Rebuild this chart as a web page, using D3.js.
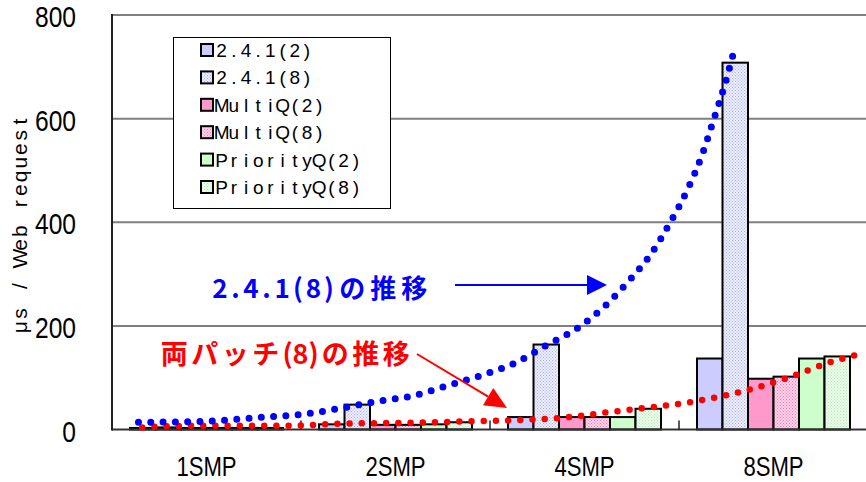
<!DOCTYPE html>
<html>
<head>
<meta charset="utf-8">
<script src="https://cdn.jsdelivr.net/npm/d3@7"></script>
<style>
  html, body { margin: 0; padding: 0; background: #fff; }
  svg { display: block; }
  text { white-space: pre; }
</style>
</head>
<body>
<svg id="chart" width="866" height="482"></svg>
<script>
// ---- data ----
const categories = ["1SMP", "2SMP", "4SMP", "8SMP"];
const seriesNames = ["2.4.1(2)", "2.4.1(8)", "MultiQ(2)", "MultiQ(8)", "PriorityQ(2)", "PriorityQ(8)"];
const v241_2   = [3, 10, 24, 137];
const v241_8   = [4, 48, 164, 708];
const multiQ_2 = [3, 9, 24, 98];
const multiQ_8 = [3, 9, 24, 102];
const prioQ_2  = [3, 10, 24, 137];
const prioQ_8  = [3, 14, 40, 141];
const yTicks = [0, 200, 400, 600, 800];

// hand-drawn trend curves, position in category units (0..4) and µs value
const trend241Pos = [0.14, 0.51, 0.77, 1.02, 1.21, 1.40, 1.59, 1.77, 1.95, 2.13, 2.30, 2.46, 2.61, 2.74, 2.86, 2.96, 3.05, 3.12, 3.18, 3.24, 3.29];
const trend241Val = [14, 16, 23, 30, 41, 54, 65, 84, 104, 128, 163, 195, 239, 289, 343, 404, 467, 528, 594, 663, 729];
const trendBothPos = [0.16, 0.42, 0.67, 0.93, 1.18, 1.56, 1.81, 2.13, 2.39, 2.64, 2.83, 3.08, 3.33, 3.57, 3.81, 3.94];
const trendBothVal = [4, 7, 7, 7, 11, 13, 15, 18, 23, 34, 42, 54, 73, 99, 131, 144];

const seriesValues = [v241_2, v241_8, multiQ_2, multiQ_8, prioQ_2, prioQ_8];

// ---- layout ----
const svg = d3.select("#chart");
const plotLeft = 112, plotRight = 868, plotTop = 15, plotBottom = 429.5;

const x = d3.scaleBand().domain(categories).range([plotLeft, plotRight])
  .paddingInner(36 / 189).paddingOuter(18 / 189);
const step = x.step();
const xs = d3.scaleBand().domain(seriesNames).range([0, x.bandwidth()]);
const xPos = d3.scaleLinear().domain([0, categories.length]).range([plotLeft, plotRight]);
const y = d3.scaleLinear().domain([0, 800]).range([plotBottom, plotTop]);

// ---- fills ----
const defs = svg.append("defs");
function dotPattern(id, bg, dot) {
  const p = defs.append("pattern").attr("id", id).attr("patternUnits", "userSpaceOnUse")
    .attr("width", 3).attr("height", 3);
  p.append("rect").attr("width", 3).attr("height", 3).attr("fill", bg);
  p.append("rect").attr("x", 0).attr("y", 0).attr("width", 1).attr("height", 1).attr("fill", dot);
  p.append("rect").attr("x", 1.5).attr("y", 1.5).attr("width", 1).attr("height", 1).attr("fill", dot);
}
dotPattern("pat241", "#eceefb", "#aab0e8");
dotPattern("patMQ", "#ffd2e8", "#f07cbc");
dotPattern("patPQ", "#ecfcec", "#b4ecb4");
const fills = ["#ccccff", "url(#pat241)", "#ff99cc", "url(#patMQ)", "#ccffcc", "url(#patPQ)"];

// ---- gridlines ----
svg.append("g").selectAll("line").data(yTicks.filter(d => d > 0)).join("line")
  .attr("x1", plotLeft).attr("x2", 866)
  .attr("y1", d => y(d)).attr("y2", d => y(d))
  .attr("stroke", "#7f7f7f").attr("stroke-width", 2);

// ---- bars ----
const barG = svg.append("g");
categories.forEach((cat, ci) => {
  seriesNames.forEach((s, si) => {
    const v = seriesValues[si][ci];
    barG.append("rect")
      .attr("x", x(cat) + xs(s))
      .attr("y", y(v))
      .attr("width", xs.bandwidth())
      .attr("height", y(0) - y(v))
      .attr("fill", fills[si])
      .attr("stroke", "#000").attr("stroke-width", 2);
  });
});

// ---- axes ----
svg.append("line").attr("x1", plotLeft).attr("x2", 866).attr("y1", y(0)).attr("y2", y(0))
  .attr("stroke", "#333").attr("stroke-width", 2);
svg.append("line").attr("x1", plotLeft).attr("x2", plotLeft).attr("y1", plotTop - 1).attr("y2", y(0) + 1)
  .attr("stroke", "#222").attr("stroke-width", 2);
// category boundary ticks (inside)
svg.append("g").selectAll("line").data(d3.range(1, categories.length + 1)).join("line")
  .attr("x1", d => plotLeft + d * step).attr("x2", d => plotLeft + d * step)
  .attr("y1", y(0)).attr("y2", y(0) - 9)
  .attr("stroke", "#222").attr("stroke-width", 1.5);

// condensed axis labels
const axisFont = "'Liberation Sans', Arial, sans-serif";
svg.append("g").selectAll("text").data(yTicks).join("text")
  .attr("transform", d => `translate(76,${y(d) + 12}) scale(0.82,1)`)
  .attr("text-anchor", "end")
  .attr("font-family", axisFont)
  .attr("font-size", 30).attr("fill", "#000")
  .text(d => d);

svg.append("g").selectAll("text").data(categories).join("text")
  .attr("transform", d => `translate(${x(d) + x.bandwidth() / 2},476) scale(0.82,1)`)
  .attr("text-anchor", "middle")
  .attr("font-family", axisFont)
  .attr("font-size", 27).attr("fill", "#000")
  .text(d => d);

// fixed-pitch text: every glyph centred in its own cell
function pitchText(parent, str, opt) {
  const chars = [...str];
  let cx = opt.x;
  const centers = [];
  chars.forEach(ch => {
    const w = ch.codePointAt(0) > 0x2E80 ? opt.full : opt.half;
    centers.push((cx + w / 2).toFixed(2));
    cx += w;
  });
  return parent.append("text")
    .attr("x", centers.join(" ")).attr("y", opt.y)
    .attr("text-anchor", "middle")
    .attr("font-family", opt.font).attr("font-size", opt.size)
    .attr("font-weight", opt.weight || "normal")
    .attr("fill", opt.color || "#000")
    .text(str);
}

// y axis title
const yTitle = svg.append("g").attr("transform", "translate(27,224) rotate(-90)");
pitchText(yTitle, "μs / Web request", {
  x: -110, y: 0, half: 13.7, full: 27, size: 21,
  font: "'Liberation Sans', Arial, sans-serif"
});

// ---- trend curves (dotted) ----
const line = d3.line().x(d => xPos(d[0])).y(d => y(d[1])).curve(d3.curveMonotoneX);
svg.append("path")
  .datum(trendBothPos.map((p, i) => [p, trendBothVal[i]]))
  .attr("d", line).attr("fill", "none")
  .attr("stroke", "#ff0000").attr("stroke-width", 6.5)
  .attr("stroke-linecap", "round").attr("stroke-dasharray", "0 12.2");
svg.append("path")
  .datum(trend241Pos.map((p, i) => [p, trend241Val[i]]))
  .attr("d", line).attr("fill", "none")
  .attr("stroke", "#0000ff").attr("stroke-width", 7)
  .attr("stroke-linecap", "round").attr("stroke-dasharray", "0 12.3");

// ---- annotations ----
function arrow(x1, y1, x2, y2, color, headLen, headHalf) {
  const a = Math.atan2(y2 - y1, x2 - x1);
  const bx = x2 - headLen * Math.cos(a), by = y2 - headLen * Math.sin(a);
  svg.append("line").attr("x1", x1).attr("y1", y1).attr("x2", bx).attr("y2", by)
    .attr("stroke", color).attr("stroke-width", 2);
  const px = -Math.sin(a) * headHalf, py = Math.cos(a) * headHalf;
  svg.append("polygon")
    .attr("points", [[x2, y2], [bx + px, by + py], [bx - px, by - py]].map(p => p.join(",")).join(" "))
    .attr("fill", color);
}
arrow(455, 285, 607, 285, "#0000ff", 20, 10);
arrow(417, 354, 507, 408, "#ff0000", 22, 10);

const jpFont = "'Noto Sans CJK JP', 'Noto Sans', sans-serif";
pitchText(svg, "2.4.1(8)の推移", {
  x: 212, y: 298, half: 15.6, full: 31, size: 26, weight: "bold", color: "#0000ff", font: jpFont
});
pitchText(svg, "両パッチ(8)の推移", {
  x: 159, y: 364, half: 13, full: 30.5, size: 27, weight: "bold", color: "#ff0000", font: jpFont
});

// ---- legend ----
const lg = svg.append("g");
lg.append("rect").attr("x", 173.5).attr("y", 37.5).attr("width", 217).attr("height", 171)
  .attr("fill", "#fff").attr("stroke", "#000").attr("stroke-width", 1);
seriesNames.forEach((s, i) => {
  const cy = 50 + i * 27.4;
  lg.append("rect").attr("x", 201).attr("y", cy - 6).attr("width", 12).attr("height", 12)
    .attr("fill", fills[i]).attr("stroke", "#000").attr("stroke-width", 2);
  pitchText(lg, s, {
    x: 215.5, y: cy + 7, half: 12.2, full: 24, size: 19,
    font: "'Liberation Sans', Arial, sans-serif"
  });
});
</script>
</body>
</html>
